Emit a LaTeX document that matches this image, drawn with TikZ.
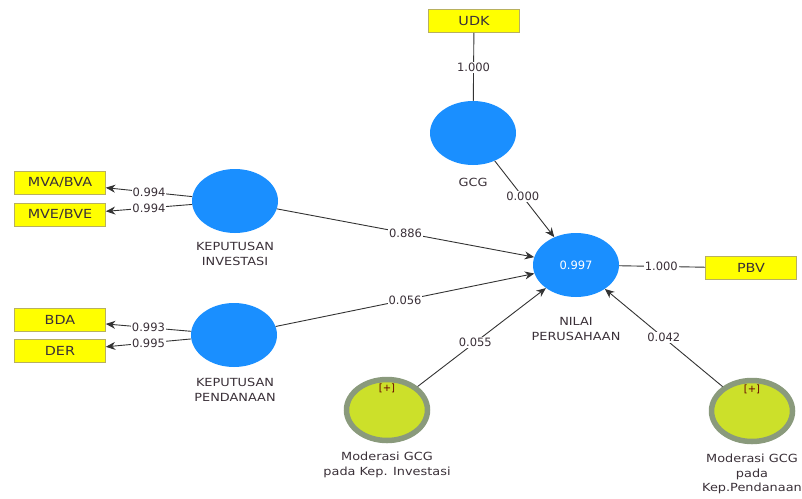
\documentclass[tikz,border=0pt]{standalone}
\usepackage{fontspec}
\setmainfont{DejaVu Sans}
\newfontfamily\lblfont{DejaVu Sans}[FakeStretch=1.15]
\usetikzlibrary{shapes.geometric,arrows.meta}
\definecolor{lvblue}{HTML}{1A8FFF}
\definecolor{boxyel}{HTML}{FFFF00}
\definecolor{boxbrd}{HTML}{B8B060}
\definecolor{modfill}{HTML}{CCE02A}
\definecolor{modbrd}{HTML}{8A9A7C}
\definecolor{txt}{HTML}{3A3038}
\tikzset{
  lv/.style={ellipse, fill=lvblue, draw=none, minimum width=86pt, minimum height=64pt, inner sep=0pt},
  modlv/.style={ellipse, fill=modfill, draw=modbrd, line width=5.5pt, minimum width=81pt, minimum height=61pt, inner sep=0pt},
  ind/.style={rectangle, fill=boxyel, draw=boxbrd, line width=0.6pt, minimum width=91pt, minimum height=23pt, inner sep=0pt, font=\lblfont\fontsize{12.5}{14}\selectfont, text=txt},
  lbl/.style={align=center, font=\lblfont\fontsize{11.2}{14.5}\selectfont, text=txt},
  coef/.style={fill=white, inner sep=1pt, font=\fontsize{11.5}{13}\selectfont, text=txt},
  conn/.style={draw=black!80, line width=0.9pt},
  arr/.style={conn, -{Stealth[length=9.5pt,width=8pt]}},
  plus/.style={font=\fontsize{10}{11}\selectfont, text=red!40!black},
}
\begin{document}
\begin{tikzpicture}[x=1pt,y=-1pt]
\useasboundingbox (0,0) rectangle (802,498);
% indicators
\node[ind] (udk) at (474,21) {UDK};
\node[ind] (mva) at (60,183) {MVA/BVA};
\node[ind] (mve) at (60,215) {MVE/BVE};
\node[ind] (bda) at (60,320) {BDA};
\node[ind] (der) at (60,351) {DER};
\node[ind] (pbv) at (751,268) {PBV};
% latent variables
\node[lv] (gcg) at (473,133) {};
\node[lv] (ki) at (235,201) {};
\node[lv] (kp) at (234,335) {};
\node[lv, text=white, font=\fontsize{11.5}{13}\selectfont] (nilai) at (576,265) {0.997};
\node[modlv] (m1) at (387,410) {};
\node[modlv] (m2) at (752,411) {};
\node[plus] (m1p) at (387,388) {[+]};
\node[plus] (m2p) at (752,389) {[+]};
% labels
\node[lbl] (gcgl) at (473,182) {GCG};
\node[lbl] (kil) at (235,254) {KEPUTUSAN\\INVESTASI};
\node[lbl] (kpl) at (235,390) {KEPUTUSAN\\PENDANAAN};
\node[lbl] (nilail) at (576,329) {NILAI\\PERUSAHAAN};
\node[lbl] (m1l) at (387,465) {Moderasi GCG\\pada Kep. Investasi};
\node[lbl] (m2l) at (752,474) {Moderasi GCG\\pada\\Kep.Pendanaan};
% connectors
\draw[conn] (udk) -- node[coef, pos=0.51] (c1) {1.000} (gcg);
\draw[arr] (ki) -- node[coef, pos=0.5] (c2) {0.994} (mva);
\draw[arr] (ki) -- node[coef, pos=0.5] (c3) {0.994} (mve);
\draw[arr] (kp) -- node[coef, pos=0.5] (c4) {0.993} (bda);
\draw[arr] (kp) -- node[coef, pos=0.5] (c5) {0.995} (der);
\draw[arr] (gcg) -- node[coef, pos=0.47] (c6) {0.000} (nilai);
\draw[arr] (ki) -- node[coef, pos=0.5] (c7) {0.886} (nilai);
\draw[arr] (kp) -- node[coef, pos=0.5] (c8) {0.056} (nilai);
\draw[conn] (nilai) -- node[coef, pos=0.49] (c9) {1.000} (pbv);
\draw[arr] (m1) -- node[coef, pos=0.45] (c10) {0.055} (nilai);
\draw[arr] (m2) -- node[coef, pos=0.5] (c11) {0.042} (nilai);
\end{tikzpicture}
\end{document}
